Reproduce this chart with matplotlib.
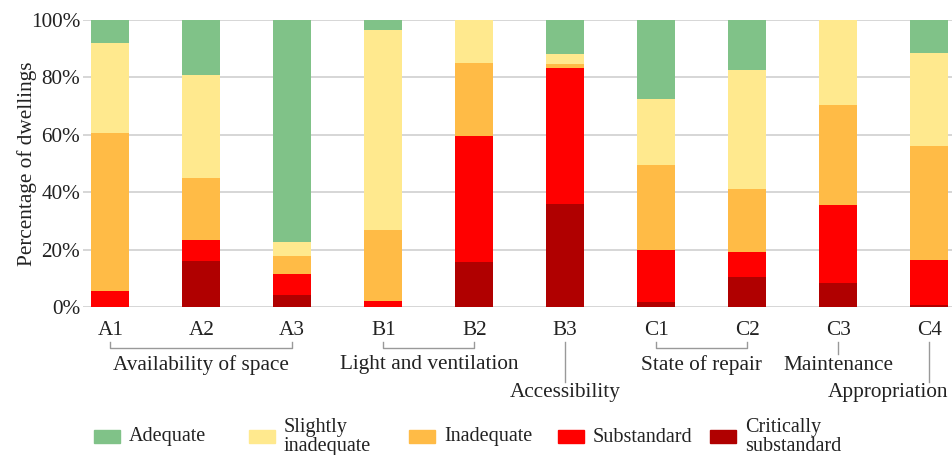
import numpy as np
import matplotlib.pyplot as plt
from matplotlib.patches import Rectangle
from matplotlib.transforms import blended_transform_factory

plt.rcParams['font.family'] = ['Liberation Serif', 'DejaVu Serif']

# indicators
labels = ['A1', 'A2', 'A3', 'B1', 'B2', 'B3', 'C1', 'C2', 'C3', 'C4']

# share of dwellings per rating (%), bottom to top
crit = [0, 15.9, 4.3, 0, 15.7, 35.8, 1.7, 10.5, 8.3, 0.7]
sub = [5.5, 7.4, 7.3, 2.1, 43.8, 47.6, 18.1, 8.5, 27.3, 15.8]
inad = [55.3, 21.5, 6.1, 24.9, 25.4, 1.1, 29.6, 22.0, 34.7, 39.7]
slight = [31.1, 35.9, 5.0, 69.5, 15.1, 3.5, 22.9, 41.7, 29.7, 32.2]
adeq = [8.1, 19.3, 77.3, 3.5, 0, 12.0, 27.7, 17.3, 0, 11.6]

series = [
    ('Critically\nsubstandard', crit, '#b00000'),
    ('Substandard', sub, '#ff0000'),
    ('Inadequate', inad, '#ffbb46'),
    ('Slightly\ninadequate', slight, '#ffe98e'),
    ('Adequate', adeq, '#80c288'),
]

# groups of indicators: name, first, last
groups = [
    ('Availability of space', 0, 2),
    ('Light and ventilation', 3, 4),
    ('Accessibility', 5, 5),
    ('State of repair', 6, 7),
    ('Maintenance', 8, 8),
    ('Appropriation', 9, 9),
]

W, H = 952, 455
FS = 15.3
TC = '#222222'
fig = plt.figure(figsize=(W / 100, H / 100), dpi=100)
ax = fig.add_axes([83 / W, 1 - 307 / H, 1 - 83 / W, (307 - 20) / H])

x = np.arange(len(labels))
bottom = np.zeros(len(labels))
for name, vals, col in series:
    vals = np.array(vals)
    ax.bar(x, vals, 0.42, bottom=bottom, color=col, zorder=3, linewidth=0)
    bottom += vals

ax.set_xlim(-0.3, 9.25)
ax.set_ylim(0, 100)
ax.set_yticks(range(0, 101, 20))
ax.set_yticklabels([f'{v}%' for v in range(0, 101, 20)], fontsize=FS, color=TC)
ax.set_xticks(x)
ax.set_xticklabels(labels, fontsize=FS, color=TC)
ax.tick_params(length=0)
ax.tick_params(axis='x', pad=10)
ax.tick_params(axis='y', pad=2)
ax.grid(axis='y', color='#d0d0d0', linewidth=1.2, zorder=0)
for s in ax.spines.values():
    s.set_visible(False)
ax.set_ylabel('Percentage of dwellings', fontsize=FS, color=TC)
ax.yaxis.set_label_coords((37 - 83) / 869, 0.5)

# group brackets under the tick labels
tr = blended_transform_factory(ax.transData, fig.transFigure)
def fy(p):
    return 1 - p / H

lc = '#999999'
for name, a, b in groups:
    if a != b:
        ax.plot([a, a, b, b], [fy(342), fy(348), fy(348), fy(342)], color=lc,
                lw=1, transform=tr, clip_on=False)
        ax.text((a + b) / 2, fy(365), name, transform=tr, ha='center', va='center',
                fontsize=FS, color=TC)
    else:
        end, ty = (354, 365) if name == 'Maintenance' else (382, 393)
        ax.plot([a, a], [fy(342), fy(end)], color=lc, lw=1, transform=tr, clip_on=False)
        ha, tx = ('right', a + 0.21) if a == len(labels) - 1 else ('center', a)
        ax.text(tx, fy(ty), name, transform=tr, ha=ha, va='center',
                fontsize=FS, color=TC)

# legend drawn by hand in figure pixels
leg_x = [94, 249, 409, 558, 710]
for (name, vals, col), lx in zip(series[::-1], leg_x):
    fig.add_artist(Rectangle((lx / W, fy(443)), 26 / W, 13 / H, color=col,
                             transform=fig.transFigure))
    fig.text((lx + 35) / W, fy(437), name, ha='left', va='center', fontsize=14.5,
             color=TC, linespacing=1.0)

fig.savefig('out.png', dpi=100)
